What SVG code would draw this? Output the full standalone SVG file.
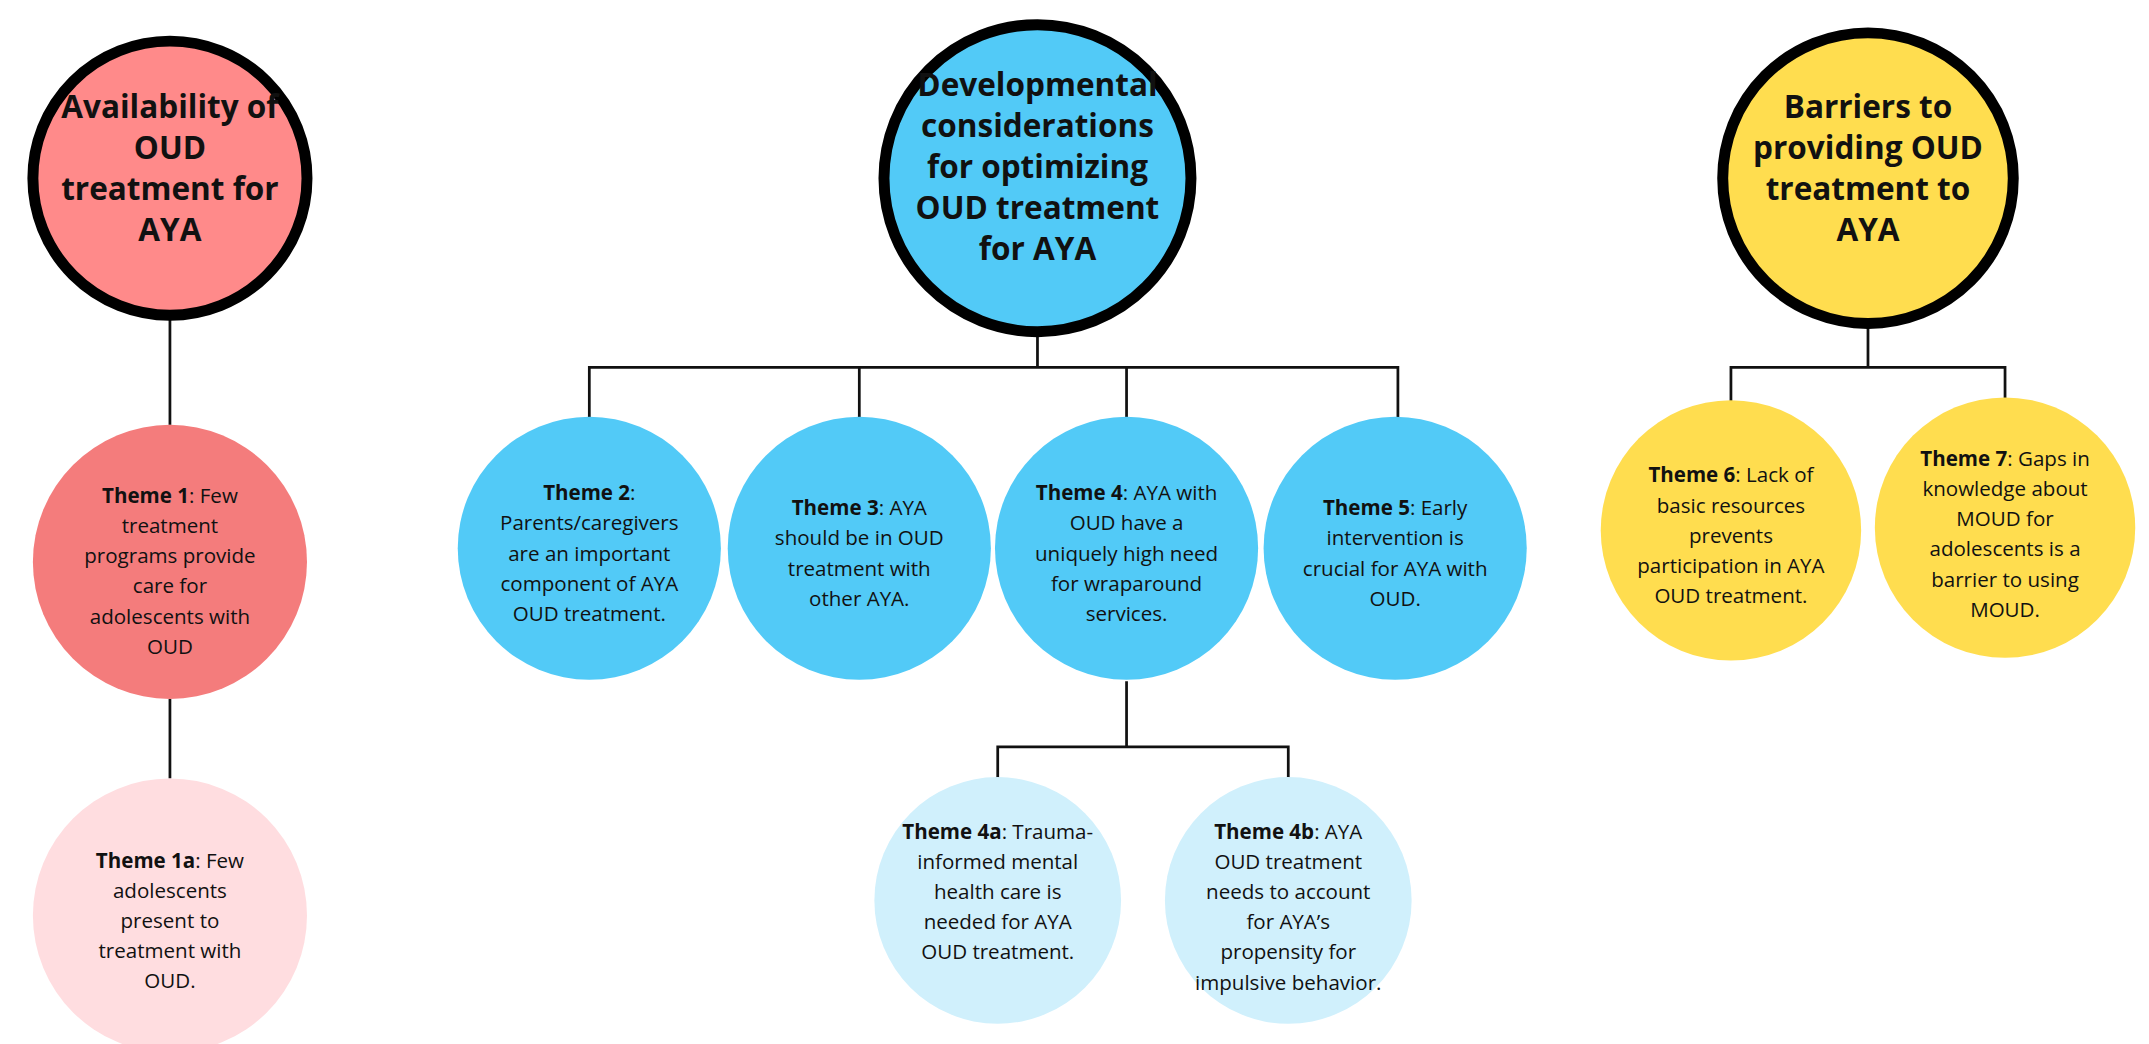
<svg xmlns="http://www.w3.org/2000/svg" width="2149" height="1044" viewBox="0 0 2149 1044">
<style>
text{font-family:"Open Sans","Liberation Sans",sans-serif;text-anchor:middle;fill:#111}
.t{font-size:23px;font-weight:bold}
.s{font-size:15px}
.big{stroke:#000;stroke-width:8}
.c line,.c path{stroke:#111;stroke-width:2;fill:none}
</style>
<rect width="2149" height="1044" fill="#fff"/>
<g transform="scale(1.3705)">
<g class="c" id="connectors">
<line x1="124" y1="232" x2="124" y2="310"/>
<line x1="124" y1="510" x2="124" y2="568"/>
<path d="M757 245V268M430 305V268H1020V305M627 268V305M822 268V305"/>
<path d="M822 497V545M728 570V545H940V570"/>
<path d="M1363 238V268M1263 295V268H1463V295"/>
</g>
<g id="n0"><circle cx="124" cy="130" r="100" fill="#FF8A8A" class="big"/>
<text class="t"><tspan x="124" y="86">Availability of</tspan><tspan x="124" y="116">OUD</tspan><tspan x="124" y="146">treatment for</tspan><tspan x="124" y="176">AYA</tspan></text></g>
<g id="n1"><circle cx="757" cy="130" r="112" fill="#52CAF7" class="big"/>
<text class="t"><tspan x="757" y="70">Developmental</tspan><tspan x="757" y="100">considerations</tspan><tspan x="757" y="130">for optimizing</tspan><tspan x="757" y="160">OUD treatment</tspan><tspan x="757" y="190">for AYA</tspan></text></g>
<g id="n2"><circle cx="1363" cy="130" r="106" fill="#FFDD4F" class="big"/>
<text class="t"><tspan x="1363" y="86">Barriers to</tspan><tspan x="1363" y="116">providing OUD</tspan><tspan x="1363" y="146">treatment to</tspan><tspan x="1363" y="176">AYA</tspan></text></g>
<g id="t1"><circle cx="124" cy="410" r="100" fill="#F47C7C"/>
<text class="s"><tspan x="124" y="367"><tspan font-weight="bold">Theme 1</tspan>: Few</tspan><tspan x="124" y="389">treatment</tspan><tspan x="124" y="411">programs provide</tspan><tspan x="124" y="433">care for</tspan><tspan x="124" y="455">adolescents with</tspan><tspan x="124" y="477">OUD</tspan></text></g>
<g id="t1a"><circle cx="124" cy="668" r="100" fill="#FFDDE0"/>
<text class="s"><tspan x="124" y="633"><tspan font-weight="bold">Theme 1a</tspan>: Few</tspan><tspan x="124" y="655">adolescents</tspan><tspan x="124" y="677">present to</tspan><tspan x="124" y="699">treatment with</tspan><tspan x="124" y="721">OUD.</tspan></text></g>
<g id="t2"><circle cx="430" cy="400" r="96" fill="#52CAF7"/>
<text class="s"><tspan x="430" y="365"><tspan font-weight="bold">Theme 2</tspan>:</tspan><tspan x="430" y="387">Parents/caregivers</tspan><tspan x="430" y="409">are an important</tspan><tspan x="430" y="431">component of AYA</tspan><tspan x="430" y="453">OUD treatment.</tspan></text></g>
<g id="t3"><circle cx="627" cy="400" r="96" fill="#52CAF7"/>
<text class="s"><tspan x="627" y="376"><tspan font-weight="bold">Theme 3</tspan>: AYA</tspan><tspan x="627" y="398">should be in OUD</tspan><tspan x="627" y="420">treatment with</tspan><tspan x="627" y="442">other AYA.</tspan></text></g>
<g id="t4"><circle cx="822" cy="400" r="96" fill="#52CAF7"/>
<text class="s"><tspan x="822" y="365"><tspan font-weight="bold">Theme 4</tspan>: AYA with</tspan><tspan x="822" y="387">OUD have a</tspan><tspan x="822" y="409">uniquely high need</tspan><tspan x="822" y="431">for wraparound</tspan><tspan x="822" y="453">services.</tspan></text></g>
<g id="t5"><circle cx="1018" cy="400" r="96" fill="#52CAF7"/>
<text class="s"><tspan x="1018" y="376"><tspan font-weight="bold">Theme 5</tspan>: Early</tspan><tspan x="1018" y="398">intervention is</tspan><tspan x="1018" y="420">crucial for AYA with</tspan><tspan x="1018" y="442">OUD.</tspan></text></g>
<g id="t4a"><circle cx="728" cy="657" r="90" fill="#D0F0FC"/>
<text class="s"><tspan x="728" y="612"><tspan font-weight="bold">Theme 4a</tspan>: Trauma-</tspan><tspan x="728" y="634">informed mental</tspan><tspan x="728" y="656">health care is</tspan><tspan x="728" y="678">needed for AYA</tspan><tspan x="728" y="700">OUD treatment.</tspan></text></g>
<g id="t4b"><circle cx="940" cy="657" r="90" fill="#D0F0FC"/>
<text class="s"><tspan x="940" y="612"><tspan font-weight="bold">Theme 4b</tspan>:  AYA</tspan><tspan x="940" y="634">OUD treatment</tspan><tspan x="940" y="656">needs to account</tspan><tspan x="940" y="678">for AYA’s</tspan><tspan x="940" y="700">propensity for</tspan><tspan x="940" y="722">impulsive behavior.</tspan></text></g>
<g id="t6"><circle cx="1263" cy="387" r="95" fill="#FFDD4F"/>
<text class="s"><tspan x="1263" y="352"><tspan font-weight="bold">Theme 6</tspan>: Lack of</tspan><tspan x="1263" y="374">basic resources</tspan><tspan x="1263" y="396">prevents</tspan><tspan x="1263" y="418">participation in AYA</tspan><tspan x="1263" y="440">OUD treatment.</tspan></text></g>
<g id="t7"><circle cx="1463" cy="385" r="95" fill="#FFDD4F"/>
<text class="s"><tspan x="1463" y="340"><tspan font-weight="bold">Theme 7</tspan>: Gaps in</tspan><tspan x="1463" y="362">knowledge about</tspan><tspan x="1463" y="384">MOUD for</tspan><tspan x="1463" y="406">adolescents is a</tspan><tspan x="1463" y="428">barrier to using</tspan><tspan x="1463" y="450">MOUD.</tspan></text></g>
</g>
</svg>
